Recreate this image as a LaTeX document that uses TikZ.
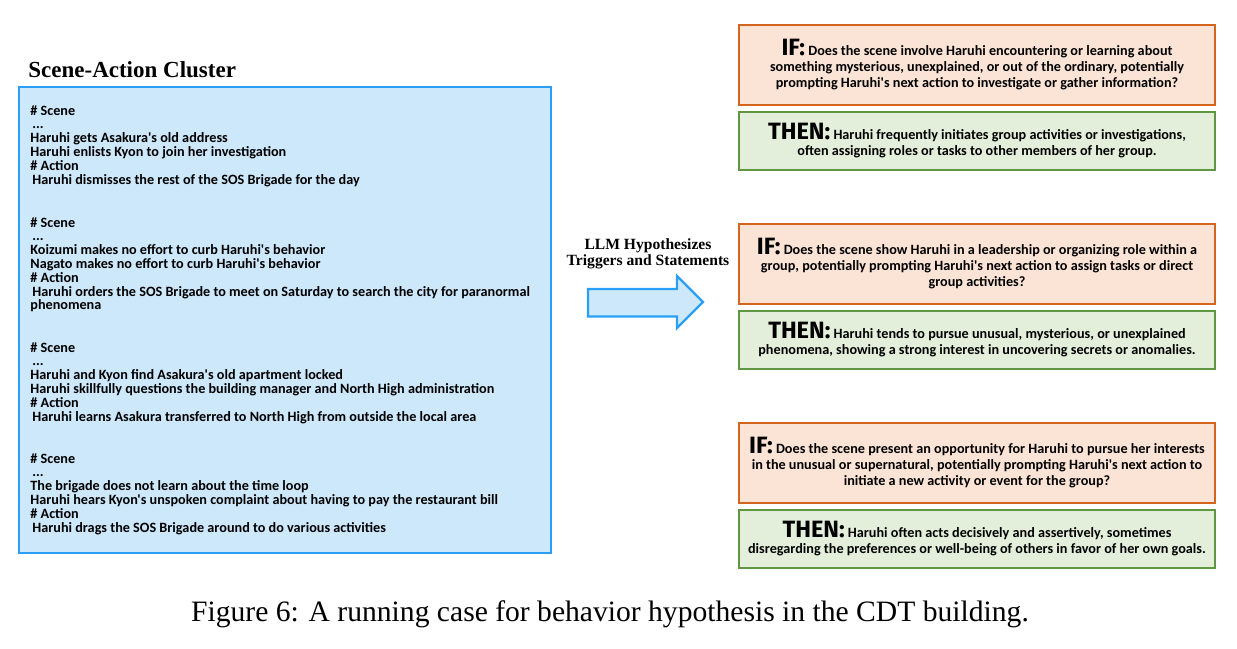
\documentclass[tikz,border=0pt]{standalone}
\usepackage{fontspec}
\setmainfont{Liberation Serif}
\newfontfamily\bx{Carlito}
\newfontfamily\hd{Fira Sans}
\definecolor{bluefill}{HTML}{CDE8FB}
\definecolor{blueline}{HTML}{2A9FF5}
\definecolor{iffill}{HTML}{FBE4D5}
\definecolor{ifline}{HTML}{D4651F}
\definecolor{thenfill}{HTML}{E3EFDA}
\definecolor{thenline}{HTML}{5F9642}
\newcommand\hIF{{\hd\bfseries\fontsize{11.8}{8}\selectfont IF:}}
\newcommand\hTHEN{{\hd\bfseries\fontsize{11.8}{8}\selectfont THEN:}}
\begin{document}
\begin{tikzpicture}[x=0.5pt,y=-0.5pt,
  sline/.style={anchor=base west, inner sep=0pt, font=\bx\bfseries\fontsize{7.1}{8}\selectfont},
  ruleboxbase/.style={line width=1pt, minimum width=238pt, inner sep=0pt, align=center,
    font=\bx\bfseries\fontsize{7.1}{8}\selectfont},
  ifbox/.style={ruleboxbase, draw=ifline, fill=iffill, minimum height=40pt},
  thenbox/.style={ruleboxbase, draw=thenline, fill=thenfill, minimum height=29pt}]
\useasboundingbox (0,0) rectangle (1237,648);

% left cluster
\node[draw=blueline, fill=bluefill, line width=1pt, minimum width=266pt, minimum height=233pt, inner sep=0pt] (cluster) at (285,320) {};
\node[anchor=base west, inner sep=0pt, font=\bfseries\fontsize{11.5}{12}\selectfont] (title) at (28,77) {Scene-Action Cluster};

\node[sline] (a1) at (30,115) {\# Scene};
\node[sline] (a2) at (32,128.8) {...};
\node[sline] (a3) at (30,142.6) {Haruhi gets Asakura's old address};
\node[sline] (a4) at (30,156.4) {Haruhi enlists Kyon to join her investigation};
\node[sline] (a5) at (30,170.2) {\# Action};
\node[sline] (a6) at (32,184) {Haruhi dismisses the rest of the SOS Brigade for the day};

\node[sline] (b1) at (30,227) {\# Scene};
\node[sline] (b2) at (32,240.8) {...};
\node[sline] (b3) at (30,254.6) {Koizumi makes no effort to curb Haruhi's behavior};
\node[sline] (b4) at (30,268.4) {Nagato makes no effort to curb Haruhi's behavior};
\node[sline] (b5) at (30,282.2) {\# Action};
\node[sline] (b6) at (32,296) {Haruhi orders the SOS Brigade to meet on Saturday to search the city for paranormal};
\node[sline] (b7) at (30,309.8) {phenomena};

\node[sline] (c1) at (30,352) {\# Scene};
\node[sline] (c2) at (32,365.8) {...};
\node[sline] (c3) at (30,379.6) {Haruhi and Kyon find Asakura's old apartment locked};
\node[sline] (c4) at (30,393.4) {Haruhi skillfully questions the building manager and North High administration};
\node[sline] (c5) at (30,407.2) {\# Action};
\node[sline] (c6) at (32,421) {Haruhi learns Asakura transferred to North High from outside the local area};

\node[sline] (d1) at (30,463) {\# Scene};
\node[sline] (d2) at (32,476.8) {...};
\node[sline] (d3) at (30,490.6) {The brigade does not learn about the time loop};
\node[sline] (d4) at (30,504.4) {Haruhi hears Kyon's unspoken complaint about having to pay the restaurant bill};
\node[sline] (d5) at (30,518.2) {\# Action};
\node[sline] (d6) at (32,532) {Haruhi drags the SOS Brigade around to do various activities};

% arrow
\node[align=center, inner sep=0pt, font=\bfseries\fontsize{7.8}{8}\selectfont] (llm) at (648,254) {LLM Hypothesizes\\Triggers and Statements};
\draw[draw=blueline, fill=bluefill, line width=1.2pt, line join=miter]
  (588,289) -- (677,289) -- (677,276) -- (703,302) -- (677,328) -- (677,316.5) -- (588,316.5) -- cycle;

% rule boxes
\node[ifbox] (if1) at (977,65) {\hIF{} Does the scene involve Haruhi encountering or learning about\\something mysterious, unexplained, or out of the ordinary, potentially\\prompting Haruhi's next action to investigate or gather information?};
\node[thenbox] (then1) at (977,141) {\hTHEN{} Haruhi frequently initiates group activities or investigations,\\often assigning roles or tasks to other members of her group.};

\node[ifbox] (if2) at (977,264) {\hIF{} Does the scene show Haruhi in a leadership or organizing role within a\\group, potentially prompting Haruhi's next action to assign tasks or direct\\group activities?};
\node[thenbox] (then2) at (977,340) {\hTHEN{} Haruhi tends to pursue unusual, mysterious, or unexplained\\phenomena, showing a strong interest in uncovering secrets or anomalies.};

\node[ifbox] (if3) at (977,463) {\hIF{} Does the scene present an opportunity for Haruhi to pursue her interests\\in the unusual or supernatural, potentially prompting Haruhi's next action to\\initiate a new activity or event for the group?};
\node[thenbox] (then3) at (977,539) {\hTHEN{} Haruhi often acts decisively and assertively, sometimes\\disregarding the preferences or well-being of others in favor of her own goals.};

% caption
\node[inner sep=0pt, font=\fontsize{14.8}{16}\selectfont] (caption) at (610,614) {Figure 6: A running case for behavior hypothesis in the CDT building.};
\end{tikzpicture}
\end{document}
